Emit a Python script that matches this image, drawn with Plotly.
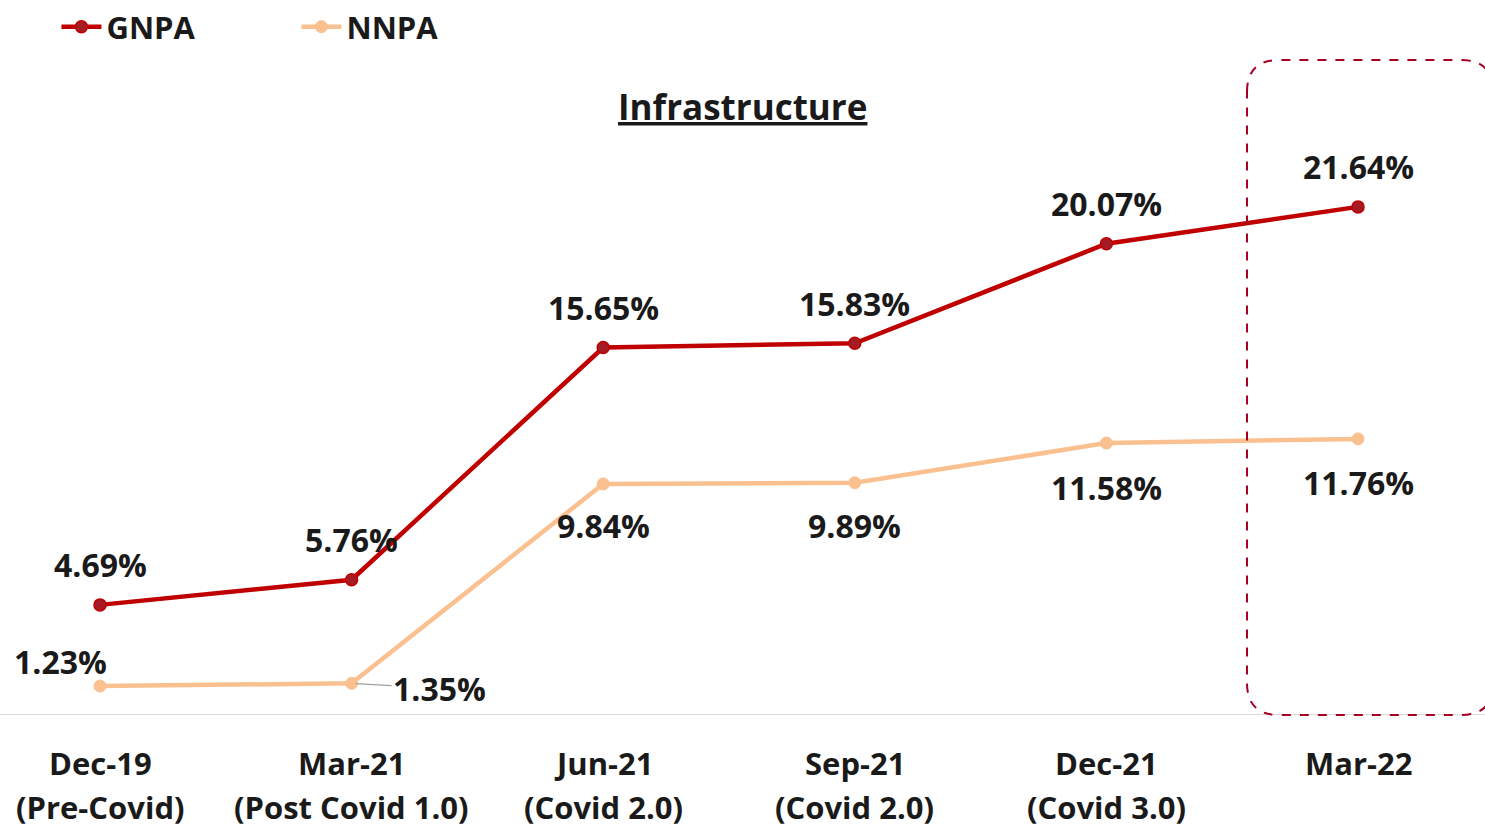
import plotly.graph_objects as go

categories = ["Dec-19", "Mar-21", "Jun-21", "Sep-21", "Dec-21", "Mar-22"]
sublabels = ["(Pre-Covid)", "(Post Covid 1.0)", "(Covid 2.0)", "(Covid 2.0)", "(Covid 3.0)", ""]
gnpa = [4.69, 5.76, 15.65, 15.83, 20.07, 21.64]
nnpa = [1.23, 1.35, 9.84, 9.89, 11.58, 11.76]

FONT = "Open Sans"
TXT = "#1a1a1a"
RED = "#C00000"
PEACH = "#FAC090"

W, H = 1485, 828
ML, MR, MT, MB = 0, 0, 50, 113
px_per_cat = 251.6
x0 = -100 / px_per_cat
x1 = x0 + (W - ML - MR) / px_per_cat
ppu = 23.48
ymax = (H - MT - MB) / ppu
ph = H - MT - MB

xs = list(range(len(categories)))

fig = go.Figure()
fig.add_trace(go.Scatter(
    x=xs, y=gnpa, name="<b>GNPA</b>", mode="lines+markers",
    line=dict(color=RED, width=4.5),
    marker=dict(size=12, color="#A51C24", line=dict(color=RED, width=1.5)),
))
fig.add_trace(go.Scatter(
    x=xs, y=nnpa, name="<b>NNPA</b>", mode="lines+markers",
    line=dict(color=PEACH, width=4.5),
    marker=dict(size=12, color=PEACH, line=dict(color=PEACH, width=1)),
))

annotations = []
lab_font = dict(family=FONT, size=32, color=TXT)
for i, v in enumerate(gnpa):
    annotations.append(dict(x=xs[i], y=v, xref="x", yref="y", text=f"<b>{v:.2f}%</b>",
                            showarrow=False, yshift=40, font=lab_font))
nn_offsets = [(-40, 25), None, (0, -42), (0, -43), (0, -44), (0, -44)]
for i, v in enumerate(nnpa):
    if nn_offsets[i] is None:
        annotations.append(dict(x=xs[i], y=v, xref="x", yref="y", text=f"<b>{v:.2f}%</b>",
                                showarrow=True, arrowhead=0, arrowwidth=1.2,
                                arrowcolor="#a0a0a0", ax=88, ay=5, standoff=4,
                                font=lab_font))
    else:
        dx, dy = nn_offsets[i]
        annotations.append(dict(x=xs[i], y=v, xref="x", yref="y", text=f"<b>{v:.2f}%</b>",
                                showarrow=False, xshift=dx, yshift=dy, font=lab_font))

cat_font = dict(family=FONT, size=31, color=TXT)
for i, c in enumerate(categories):
    annotations.append(dict(x=xs[i], y=(715 - 763) / ph, xref="x", yref="paper",
                            text=f"<b>{c}</b>", showarrow=False, font=cat_font, yanchor="middle"))
    if sublabels[i]:
        annotations.append(dict(x=xs[i], y=(715 - 807) / ph, xref="x", yref="paper",
                                text=f"<b>{sublabels[i]}</b>", showarrow=False, font=cat_font,
                                yanchor="middle"))

annotations.append(dict(x=742 / W, y=(715 - 106) / ph, xref="paper", yref="paper",
                        text="<b><u>Infrastructure</u></b>", showarrow=False,
                        font=dict(family=FONT, size=35, color=TXT), yanchor="middle"))

def px(xp):
    return xp / W
def py(yp):
    return (715 - yp) / ph
L, R, T, B = 1247, 1493, 60, 715
r = 32
path = (f"M {px(L)},{py(T + r)} Q {px(L)},{py(T)} {px(L + r)},{py(T)} "
        f"L {px(R - r)},{py(T)} Q {px(R)},{py(T)} {px(R)},{py(T + r)} "
        f"L {px(R)},{py(B - r)} Q {px(R)},{py(B)} {px(R - r)},{py(B)} "
        f"L {px(L + r)},{py(B)} Q {px(L)},{py(B)} {px(L)},{py(B - r)} Z")

fig.update_layout(
    width=W, height=H,
    margin=dict(l=ML, r=MR, t=MT, b=MB, autoexpand=False),
    plot_bgcolor="white", paper_bgcolor="white",
    font=dict(family=FONT, color=TXT),
    showlegend=True,
    legend=dict(orientation="h", x=0.038, y=1.0, yref="container", yanchor="top",
                font=dict(family=FONT, size=31, color=TXT), entrywidth=185,
                entrywidthmode="pixels", itemwidth=40,
                bgcolor="rgba(0,0,0,0)"),
    xaxis=dict(range=[x0, x1], showticklabels=False, showgrid=False, zeroline=False,
               showline=False, ticks=""),
    yaxis=dict(range=[0, ymax], showticklabels=False, showgrid=False, zeroline=False,
               showline=False, ticks=""),
    annotations=annotations,
    shapes=[
        dict(type="line", xref="paper", yref="y", x0=0, x1=1, y0=0, y1=0,
             line=dict(color="#d9d9d9", width=2), layer="below"),
        dict(type="path", xref="paper", yref="paper", path=path,
             line=dict(color="#A50021", width=2, dash="dash"), layer="above"),
    ],
)

fig.write_html("out.html", config={"displayModeBar": False},
               post_script="document.body.style.margin='0';")
